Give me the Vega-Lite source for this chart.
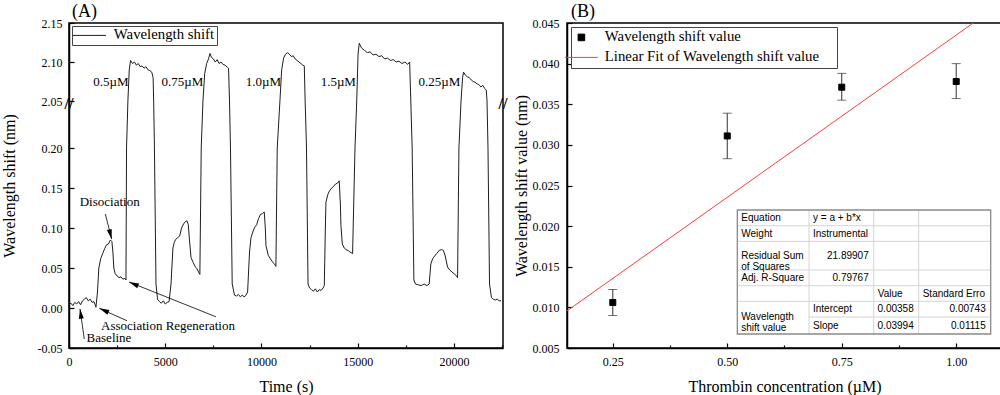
{
  "$schema": "https://vega.github.io/schema/vega-lite/v6.json",
  "padding": {"left": 0, "top": 2, "right": 0, "bottom": 0},
  "spacing": 3,
  "datasets": {
    "trace": [
      {"time":0,"shift":0.004},{"time":100,"shift":0.006},{"time":200,"shift":0.003},{"time":300,"shift":0.007},{"time":400,"shift":0.005},{"time":500,"shift":0.008},{"time":600,"shift":0.004},{"time":700,"shift":0.009},{"time":800,"shift":0.011},{"time":900,"shift":0.013},{"time":1000,"shift":0.009},{"time":1100,"shift":0.011},{"time":1200,"shift":0.007},{"time":1300,"shift":0.008},{"time":1400,"shift":0.001},{"time":1480,"shift":0.02},{"time":1550,"shift":0.05},{"time":1650,"shift":0.062},{"time":1750,"shift":0.068},{"time":1850,"shift":0.074},{"time":1950,"shift":0.079},{"time":2050,"shift":0.08},{"time":2150,"shift":0.085},{"time":2230,"shift":0.083},{"time":2280,"shift":0.07},{"time":2330,"shift":0.05},{"time":2400,"shift":0.043},{"time":2500,"shift":0.04},{"time":2600,"shift":0.038},{"time":2700,"shift":0.039},{"time":2800,"shift":0.036},{"time":2900,"shift":0.037},{"time":2960,"shift":0.035},{"time":2990,"shift":0.2},{"time":3060,"shift":2.05},{"time":3130,"shift":2.09},{"time":3200,"shift":2.102},{"time":3300,"shift":2.098},{"time":3400,"shift":2.1},{"time":3500,"shift":2.096},{"time":3600,"shift":2.098},{"time":3700,"shift":2.094},{"time":3800,"shift":2.095},{"time":3900,"shift":2.092},{"time":4000,"shift":2.094},{"time":4100,"shift":2.09},{"time":4200,"shift":2.089},{"time":4300,"shift":2.087},{"time":4370,"shift":2.08},{"time":4400,"shift":2.05},{"time":4440,"shift":0.2},{"time":4520,"shift":0.03},{"time":4600,"shift":0.011},{"time":4700,"shift":0.008},{"time":4800,"shift":0.006},{"time":4900,"shift":0.009},{"time":5000,"shift":0.005},{"time":5100,"shift":0.007},{"time":5200,"shift":0.008},{"time":5300,"shift":0.03},{"time":5400,"shift":0.075},{"time":5470,"shift":0.082},{"time":5550,"shift":0.086},{"time":5650,"shift":0.088},{"time":5750,"shift":0.09},{"time":5850,"shift":0.1},{"time":5950,"shift":0.105},{"time":6050,"shift":0.108},{"time":6130,"shift":0.109},{"time":6200,"shift":0.104},{"time":6260,"shift":0.085},{"time":6340,"shift":0.063},{"time":6450,"shift":0.057},{"time":6550,"shift":0.052},{"time":6650,"shift":0.049},{"time":6750,"shift":0.044},{"time":6800,"shift":0.042},{"time":6870,"shift":0.2},{"time":6960,"shift":2.05},{"time":7050,"shift":2.085},{"time":7150,"shift":2.098},{"time":7250,"shift":2.104},{"time":7325,"shift":2.111},{"time":7400,"shift":2.106},{"time":7500,"shift":2.104},{"time":7600,"shift":2.1},{"time":7700,"shift":2.103},{"time":7800,"shift":2.098},{"time":7900,"shift":2.1},{"time":8000,"shift":2.097},{"time":8100,"shift":2.096},{"time":8245,"shift":2.093},{"time":8290,"shift":2.092},{"time":8340,"shift":2.05},{"time":8390,"shift":0.2},{"time":8480,"shift":0.03},{"time":8600,"shift":0.016},{"time":8700,"shift":0.015},{"time":8800,"shift":0.017},{"time":8900,"shift":0.014},{"time":9000,"shift":0.016},{"time":9100,"shift":0.014},{"time":9200,"shift":0.016},{"time":9280,"shift":0.02},{"time":9380,"shift":0.07},{"time":9455,"shift":0.088},{"time":9550,"shift":0.095},{"time":9650,"shift":0.101},{"time":9750,"shift":0.104},{"time":9850,"shift":0.112},{"time":9950,"shift":0.117},{"time":10050,"shift":0.118},{"time":10145,"shift":0.12},{"time":10200,"shift":0.1},{"time":10235,"shift":0.078},{"time":10350,"shift":0.066},{"time":10500,"shift":0.06},{"time":10600,"shift":0.057},{"time":10700,"shift":0.054},{"time":10750,"shift":0.052},{"time":10820,"shift":0.2},{"time":10960,"shift":2.05},{"time":11050,"shift":2.09},{"time":11150,"shift":2.105},{"time":11250,"shift":2.11},{"time":11360,"shift":2.112},{"time":11450,"shift":2.11},{"time":11550,"shift":2.107},{"time":11650,"shift":2.108},{"time":11750,"shift":2.104},{"time":11850,"shift":2.102},{"time":11950,"shift":2.1},{"time":12050,"shift":2.098},{"time":12150,"shift":2.096},{"time":12225,"shift":2.095},{"time":12270,"shift":2.05},{"time":12340,"shift":0.2},{"time":12420,"shift":0.03},{"time":12500,"shift":0.025},{"time":12600,"shift":0.023},{"time":12700,"shift":0.021},{"time":12800,"shift":0.024},{"time":12900,"shift":0.02},{"time":13000,"shift":0.023},{"time":13100,"shift":0.022},{"time":13200,"shift":0.025},{"time":13265,"shift":0.028},{"time":13320,"shift":0.1},{"time":13350,"shift":0.132},{"time":13450,"shift":0.142},{"time":13550,"shift":0.147},{"time":13650,"shift":0.15},{"time":13750,"shift":0.152},{"time":13850,"shift":0.155},{"time":13950,"shift":0.156},{"time":14040,"shift":0.159},{"time":14100,"shift":0.13},{"time":14130,"shift":0.103},{"time":14200,"shift":0.08},{"time":14300,"shift":0.075},{"time":14400,"shift":0.073},{"time":14500,"shift":0.072},{"time":14600,"shift":0.07},{"time":14735,"shift":0.068},{"time":14860,"shift":0.2},{"time":14950,"shift":2.05},{"time":15020,"shift":2.11},{"time":15080,"shift":2.124},{"time":15200,"shift":2.118},{"time":15350,"shift":2.115},{"time":15500,"shift":2.112},{"time":15650,"shift":2.113},{"time":15800,"shift":2.109},{"time":15950,"shift":2.11},{"time":16100,"shift":2.107},{"time":16250,"shift":2.108},{"time":16400,"shift":2.104},{"time":16550,"shift":2.105},{"time":16700,"shift":2.102},{"time":16850,"shift":2.103},{"time":17000,"shift":2.1},{"time":17150,"shift":2.101},{"time":17300,"shift":2.098},{"time":17450,"shift":2.1},{"time":17600,"shift":2.097},{"time":17700,"shift":2.1},{"time":17760,"shift":2.05},{"time":17830,"shift":0.2},{"time":17920,"shift":0.035},{"time":18000,"shift":0.03},{"time":18150,"shift":0.029},{"time":18300,"shift":0.028},{"time":18450,"shift":0.03},{"time":18600,"shift":0.028},{"time":18715,"shift":0.03},{"time":18800,"shift":0.055},{"time":18900,"shift":0.062},{"time":19000,"shift":0.065},{"time":19100,"shift":0.068},{"time":19235,"shift":0.072},{"time":19350,"shift":0.073},{"time":19450,"shift":0.072},{"time":19550,"shift":0.065},{"time":19670,"shift":0.051},{"time":19800,"shift":0.047},{"time":19950,"shift":0.044},{"time":20100,"shift":0.041},{"time":20190,"shift":0.038},{"time":20260,"shift":0.2},{"time":20370,"shift":2.05},{"time":20450,"shift":2.08},{"time":20500,"shift":2.087},{"time":20600,"shift":2.083},{"time":20700,"shift":2.081},{"time":20800,"shift":2.08},{"time":20900,"shift":2.077},{"time":21000,"shift":2.075},{"time":21100,"shift":2.074},{"time":21200,"shift":2.072},{"time":21300,"shift":2.071},{"time":21400,"shift":2.068},{"time":21500,"shift":2.07},{"time":21600,"shift":2.066},{"time":21680,"shift":2.064},{"time":21720,"shift":2.05},{"time":21770,"shift":0.2},{"time":21850,"shift":0.03},{"time":21950,"shift":0.013},{"time":22050,"shift":0.011},{"time":22150,"shift":0.01},{"time":22250,"shift":0.011},{"time":22350,"shift":0.009},{"time":22450,"shift":0.009}
    ],
    "conc_labels": [
      {"time":3100,"shift":2.074,"label":"0.5µM"},
      {"time":6977,"shift":2.074,"label":"0.75µM"},
      {"time":11013,"shift":2.074,"label":"1.0µM"},
      {"time":14909,"shift":2.074,"label":"1.5µM"},
      {"time":20327,"shift":2.074,"label":"0.25µM"}
    ],
    "notes": [
      {"time":2115,"shift":0.133,"label":"Disociation"},
      {"time":5143,"shift":-0.0229,"label":"Association Regeneration"},
      {"time":2078,"shift":-0.0375,"label":"Baseline"}
    ],
    "arrows": [
      {"time":1886,"shift":0.1175,"time2":2218,"shift2":0.086},
      {"time":3013,"shift":-0.0159,"time2":1574,"shift2":-0.0004},
      {"time":7636,"shift":-0.011,"time2":3117,"shift2":0.0325},
      {"time":795,"shift":-0.0388,"time2":571,"shift2":-0.001}
    ],
    "points": [
      {"conc":0.25,"value":0.0106,"lo":0.0090,"hi":0.0122,"series":"Wavelength shift value"},
      {"conc":0.5,"value":0.0311,"lo":0.0283,"hi":0.0339,"series":"Wavelength shift value"},
      {"conc":0.75,"value":0.0371,"lo":0.0355,"hi":0.0388,"series":"Wavelength shift value"},
      {"conc":1.0,"value":0.0378,"lo":0.0357,"hi":0.0400,"series":"Wavelength shift value"}
    ],
    "fit": [
      {"conc":0.15,"value":0.00957,"series":"Linear Fit of Wavelength shift value"},
      {"conc":1.1,"value":0.04751,"series":"Linear Fit of Wavelength shift value"}
    ],
    "table_left": [
      {"row":0.5,"col":0,"text":"Equation"},
      {"row":0.5,"col":1,"text":"y = a + b*x"},
      {"row":1.5,"col":0,"text":"Weight"},
      {"row":1.5,"col":1,"text":"Instrumental"},
      {"row":2.5,"col":0,"text":"Residual Sum\nof Squares"},
      {"row":3.5,"col":0,"text":"Adj. R-Square"},
      {"row":4.5,"col":2,"text":"Value"},
      {"row":4.5,"col":3,"text":"Standard Erro"},
      {"row":6,"col":0,"text":"Wavelength\nshift value"},
      {"row":5.5,"col":1,"text":"Intercept"},
      {"row":6.5,"col":1,"text":"Slope"}
    ],
    "table_right": [
      {"row":2.5,"col":2,"text":"21.89907"},
      {"row":3.5,"col":2,"text":"0.79767"},
      {"row":5.5,"col":3,"text":"0.00358"},
      {"row":6.5,"col":3,"text":"0.03994"},
      {"row":5.5,"col":4,"text":"0.00743"},
      {"row":6.5,"col":4,"text":"0.01115"}
    ],
    "table_hlines": [
      {"row":1,"from":0,"to":4},{"row":2,"from":0,"to":4},{"row":3,"from":0,"to":4},
      {"row":4,"from":0,"to":4},{"row":5,"from":0,"to":4},{"row":6,"from":1,"to":4}
    ],
    "table_vlines": [
      {"col":1,"from":0,"to":7},{"col":2,"from":0,"to":7},{"col":3,"from":0,"to":7}
    ]
  },
  "hconcat": [
    {
      "width": 434,
      "height": 325,
      "title": {"text": "(A)", "anchor": "start", "frame": "group", "fontSize": 18, "dx": 3, "offset": -4},
      "layer": [
        {
          "data": {"name": "trace"},
          "mark": {"type": "line", "strokeWidth": 1, "interpolate": "linear"},
          "encoding": {
            "x": {"field": "time", "type": "quantitative", "title": "Time (s)",
              "scale": {"domain": [0, 22550], "nice": false, "zero": false},
              "axis": {"values": [0,2500,5000,7500,10000,12500,15000,17500,20000,22500],
                "labelExpr": "datum.value % 5000 === 0 ? format(datum.value, 'd') : ''",
                "tickSize": {"condition": {"test": "datum.value % 5000 !== 0", "value": -3}, "value": -5},
                "labelPadding": 13, "titlePadding": 9, "labelFlush": false, "labelOverlap": false}},
            "y": {"field": "shift", "type": "quantitative", "title": "Wavelength shift (nm)",
              "scale": {"domain": [-0.05, 0.2525, 2.05, 2.15], "range": [325, 83, 78, 0], "nice": false, "zero": false},
              "axis": {"values": [-0.05,-0.025,0,0.025,0.05,0.075,0.1,0.125,0.15,0.175,0.2,0.225,2.05,2.075,2.1,2.125,2.15],
                "labelExpr": "abs(round(datum.value*1000)) % 50 === 0 ? replace(format(datum.value, '.2f'), '\u2212', '-') : ''",
                "tickSize": {"condition": {"test": "abs(round(datum.value*1000)) % 50 !== 0", "value": -3}, "value": -5},
                "labelPadding": 12, "titlePadding": 20, "labelOverlap": false, "labelFlush": false}},
            "color": {"datum": "Wavelength shift", "type": "nominal",
              "scale": {"range": ["#1e1e1e"]},
              "legend": {"title": null, "orient": "top-left", "offset": 3, "padding": 2,
                "symbolType": "M-3,0H3", "symbolSize": 121, "symbolOffset": 8, "labelOffset": 17,
                "symbolStrokeWidth": 1, "labelFontSize": 14.8, "labelLimit": 400,
                "strokeColor": "#444", "fillColor": "white"}}
          }
        },
        {
          "data": {"name": "conc_labels"},
          "mark": {"type": "text", "align": "right", "baseline": "middle", "fontSize": 13, "color": "black"},
          "encoding": {
            "x": {"field": "time", "type": "quantitative"},
            "y": {"field": "shift", "type": "quantitative"},
            "text": {"field": "label"}
          }
        },
        {
          "data": {"name": "notes"},
          "mark": {"type": "text", "align": "center", "baseline": "middle", "fontSize": 13, "color": "black"},
          "encoding": {
            "x": {"field": "time", "type": "quantitative"},
            "y": {"field": "shift", "type": "quantitative"},
            "text": {"field": "label"}
          }
        },
        {
          "data": {"name": "arrows"},
          "mark": {"type": "rule", "color": "black", "strokeWidth": 0.8},
          "encoding": {
            "x": {"field": "time", "type": "quantitative"},
            "y": {"field": "shift", "type": "quantitative"},
            "x2": {"field": "time2"},
            "y2": {"field": "shift2"}
          }
        },
        {
          "data": {"values": [{}]},
          "mark": {"type": "point", "shape": "M0,0L0.5,2L-0.5,2Z", "size": 100, "filled": true, "color": "black", "opacity": 1, "angle": 166},
          "encoding": {"x": {"datum": 2218, "type": "quantitative"}, "y": {"datum": 0.086, "type": "quantitative"}}
        },
        {
          "data": {"values": [{}]},
          "mark": {"type": "point", "shape": "M0,0L0.5,2L-0.5,2Z", "size": 100, "filled": true, "color": "black", "opacity": 1, "angle": 294},
          "encoding": {"x": {"datum": 1574, "type": "quantitative"}, "y": {"datum": -0.0004, "type": "quantitative"}}
        },
        {
          "data": {"values": [{}]},
          "mark": {"type": "point", "shape": "M0,0L0.5,2L-0.5,2Z", "size": 100, "filled": true, "color": "black", "opacity": 1, "angle": 293},
          "encoding": {"x": {"datum": 3117, "type": "quantitative"}, "y": {"datum": 0.0325, "type": "quantitative"}}
        },
        {
          "data": {"values": [{}]},
          "mark": {"type": "point", "shape": "M0,0L0.5,2L-0.5,2Z", "size": 100, "filled": true, "color": "black", "opacity": 1, "angle": 352},
          "encoding": {"x": {"datum": 571, "type": "quantitative"}, "y": {"datum": -0.001, "type": "quantitative"}}
        },
        {
          "data": {"values": [{}]},
          "mark": {"type": "text", "text": "//", "fontSize": 16, "fontWeight": "bold", "color": "black", "align": "center", "baseline": "middle"},
          "encoding": {"x": {"datum": 0, "type": "quantitative"}, "y": {"datum": 1.15, "type": "quantitative"}}
        },
        {
          "data": {"values": [{}]},
          "mark": {"type": "text", "text": "//", "fontSize": 16, "fontWeight": "bold", "color": "black", "align": "center", "baseline": "middle"},
          "encoding": {"x": {"datum": 22550, "type": "quantitative"}, "y": {"datum": 1.15, "type": "quantitative"}}
        }
      ]
    },
    {
      "width": 435,
      "height": 325,
      "title": {"text": "(B)", "anchor": "start", "frame": "group", "fontSize": 18, "dx": 4, "offset": -4},
      "layer": [
        {
          "layer": [
            {
              "data": {"name": "fit"},
              "mark": {"type": "line", "clip": true, "strokeWidth": 1},
              "encoding": {
                "x": {"field": "conc", "type": "quantitative", "title": "Thrombin concentration (µM)",
                  "scale": {"domain": [0.15, 1.1], "nice": false, "zero": false},
                  "axis": {"values": [0.25,0.375,0.5,0.625,0.75,0.875,1.0],
                    "labelExpr": "round(datum.value*1000) % 250 === 0 ? format(datum.value, '.2f') : ''",
                    "tickSize": {"condition": {"test": "round(datum.value*1000) % 250 !== 0", "value": -3}, "value": -5},
                    "labelPadding": 13, "titlePadding": 9, "labelFlush": false, "labelOverlap": false}},
                "y": {"field": "value", "type": "quantitative", "title": "Wavelength shift value (nm)",
                  "scale": {"domain": [0.005, 0.045], "nice": false, "zero": false},
                  "axis": {"values": [0.005,0.0075,0.01,0.0125,0.015,0.0175,0.02,0.0225,0.025,0.0275,0.03,0.0325,0.035,0.0375,0.04,0.0425,0.045],
                    "labelExpr": "round(datum.value*10000) % 50 === 0 ? format(datum.value, '.3f') : ''",
                    "tickSize": {"condition": {"test": "round(datum.value*10000) % 50 !== 0", "value": -3}, "value": -5},
                    "labelPadding": 13, "titlePadding": 3, "labelFlush": false, "labelOverlap": false}},
                "stroke": {"field": "series", "type": "nominal",
                  "scale": {"domain": ["Wavelength shift value", "Linear Fit of Wavelength shift value"], "range": ["black", "#ff3b3b"]},
                  "legend": {"title": "\u00a0", "titleOrient": "right", "titleFontSize": 4, "titlePadding": 15,
                    "orient": "top-left", "offset": 3.5, "padding": 3,
                    "symbolSize": 121, "symbolOffset": 0, "labelOffset": 16, "rowPadding": 4,
                    "symbolStrokeWidth": 1, "labelFontSize": 14.8, "labelLimit": 500,
                    "strokeColor": "#444", "fillColor": "white"}}
              }
            },
            {
              "data": {"name": "points"},
              "mark": {"type": "errorbar", "ticks": {"size": 9, "color": "#333"}, "color": "#333"},
              "encoding": {
                "x": {"field": "conc", "type": "quantitative"},
                "y": {"field": "lo", "type": "quantitative", "title": "Wavelength shift value (nm)"},
                "y2": {"field": "hi"}
              }
            },
            {
              "data": {"name": "points"},
              "mark": {"type": "point", "filled": true, "size": 100, "strokeWidth": 1, "opacity": 1},
              "encoding": {
                "x": {"field": "conc", "type": "quantitative"},
                "y": {"field": "value", "type": "quantitative", "title": "Wavelength shift value (nm)"},
                "fill": {"field": "series", "type": "nominal",
                  "scale": {"domain": ["Wavelength shift value", "Linear Fit of Wavelength shift value"], "range": ["black", "#ff3b3b"]}},
                "stroke": {"field": "series", "type": "nominal"},
                "shape": {"field": "series", "type": "nominal",
                  "scale": {"domain": ["Wavelength shift value", "Linear Fit of Wavelength shift value"], "range": ["M-0.6,-0.6H0.6V0.6H-0.6Z", "M-3,0H3"]}}
              }
            }
          ]
        },
        {
          "layer": [
            {
              "data": {"values": [{}]},
              "mark": {"type": "rect", "fill": "white", "stroke": null},
              "encoding": {
                "x": {"datum": 0, "type": "quantitative", "axis": null,
                  "scale": {"domain": [0,1,2,3,4], "range": [170.3,242,306.7,351.7,423.7], "nice": false, "zero": false}},
                "x2": {"datum": 4},
                "y": {"datum": 0, "type": "quantitative", "axis": null,
                  "scale": {"domain": [0,1,2,3,4,5,6,7], "range": [187,202.7,218.3,247,262.7,278.3,294,311], "nice": false, "zero": false}},
                "y2": {"datum": 7}
              }
            },
            {
              "data": {"name": "table_hlines"},
              "mark": {"type": "rule", "color": "#d4d4d4", "strokeWidth": 1},
              "encoding": {
                "x": {"field": "from", "type": "quantitative"},
                "x2": {"field": "to"},
                "y": {"field": "row", "type": "quantitative"}
              }
            },
            {
              "data": {"name": "table_vlines"},
              "mark": {"type": "rule", "color": "#d4d4d4", "strokeWidth": 1},
              "encoding": {
                "x": {"field": "col", "type": "quantitative"},
                "y": {"field": "from", "type": "quantitative"},
                "y2": {"field": "to"}
              }
            },
            {
              "data": {"values": [{}]},
              "mark": {"type": "rect", "fill": null, "stroke": "#8a8a8a", "strokeWidth": 1.3},
              "encoding": {
                "x": {"datum": 0, "type": "quantitative"},
                "x2": {"datum": 4},
                "y": {"datum": 0, "type": "quantitative"},
                "y2": {"datum": 7}
              }
            },
            {
              "data": {"name": "table_left"},
              "mark": {"type": "text", "align": "left", "baseline": "middle", "dx": 4, "font": "Liberation Sans", "fontSize": 10, "color": "black", "lineBreak": "\n", "lineHeight": 11},
              "encoding": {
                "x": {"field": "col", "type": "quantitative"},
                "y": {"field": "row", "type": "quantitative"},
                "text": {"field": "text"}
              }
            },
            {
              "data": {"name": "table_right"},
              "mark": {"type": "text", "align": "right", "baseline": "middle", "dx": -5, "font": "Liberation Sans", "fontSize": 10, "color": "black"},
              "encoding": {
                "x": {"field": "col", "type": "quantitative"},
                "y": {"field": "row", "type": "quantitative"},
                "text": {"field": "text"}
              }
            }
          ]
        }
      ],
      "resolve": {"scale": {"x": "independent", "y": "independent"}}
    }
  ],
  "resolve": {"scale": {"color": "independent", "fill": "independent", "stroke": "independent", "shape": "independent"}},
  "config": {
    "font": "Liberation Serif",
    "background": "white",
    "view": {"stroke": "black", "strokeWidth": 1.5},
    "axis": {
      "domainColor": "black", "domainWidth": 1.5, "tickColor": "black", "tickWidth": 1.2,
      "labelColor": "black", "titleColor": "black", "labelFontSize": 12, "titleFontSize": 16,
      "titleFontWeight": "normal", "grid": false, "labelFont": "Liberation Serif", "titleFont": "Liberation Serif"
    },
    "title": {"font": "Liberation Serif", "fontWeight": "normal", "color": "black"},
    "legend": {"labelFont": "Liberation Serif", "labelColor": "black"}
  }
}
